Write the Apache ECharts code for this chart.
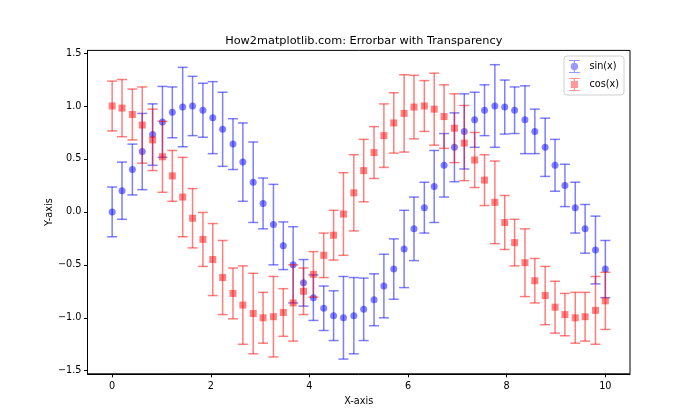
<!DOCTYPE html>
<html>
<head>
<meta charset="utf-8">
<script src="https://cdn.jsdelivr.net/npm/echarts@6/dist/echarts.min.js"></script>
<style>html,body{margin:0;padding:0;background:#fff}#chart{width:700px;height:420px}</style>
</head>
<body>
<div id="chart"></div>
<script>
const xValues = [0.00, 0.20, 0.41, 0.61, 0.82, 1.02, 1.22, 1.43, 1.63, 1.84, 2.04, 2.24, 2.45, 2.65, 2.86, 3.06, 3.27, 3.47, 3.67, 3.88, 4.08, 4.29, 4.49, 4.69, 4.90, 5.10, 5.31, 5.51, 5.71, 5.92, 6.12, 6.33, 6.53, 6.73, 6.94, 7.14, 7.35, 7.55, 7.76, 7.96, 8.16, 8.37, 8.57, 8.78, 8.98, 9.18, 9.39, 9.59, 9.80, 10.00];
const sinValues = [0.00, 0.20, 0.40, 0.57, 0.73, 0.85, 0.94, 0.99, 1.00, 0.96, 0.89, 0.78, 0.64, 0.47, 0.28, 0.08, -0.12, -0.32, -0.50, -0.67, -0.81, -0.91, -0.98, -1.00, -0.98, -0.92, -0.83, -0.70, -0.54, -0.35, -0.16, 0.04, 0.24, 0.44, 0.61, 0.76, 0.87, 0.96, 1.00, 0.99, 0.96, 0.87, 0.76, 0.61, 0.44, 0.25, 0.04, -0.16, -0.36, -0.54];
const cosValues = [1.00, 0.98, 0.92, 0.82, 0.68, 0.52, 0.34, 0.14, -0.06, -0.26, -0.45, -0.62, -0.77, -0.88, -0.96, -1.00, -0.99, -0.95, -0.86, -0.75, -0.59, -0.41, -0.22, -0.02, 0.18, 0.39, 0.56, 0.72, 0.84, 0.93, 0.99, 1.00, 0.97, 0.90, 0.79, 0.65, 0.49, 0.30, 0.09, -0.10, -0.29, -0.48, -0.65, -0.79, -0.90, -0.97, -1.00, -0.99, -0.93, -0.84];
const errValues = [0.235, 0.27, 0.24, 0.36, 0.29, 0.335, 0.24, 0.375, 0.28, 0.255, 0.34, 0.35, 0.24, 0.37, 0.38, 0.24, 0.38, 0.225, 0.36, 0.22, 0.215, 0.21, 0.235, 0.39, 0.36, 0.295, 0.245, 0.30, 0.285, 0.365, 0.30, 0.24, 0.34, 0.30, 0.325, 0.355, 0.26, 0.24, 0.39, 0.255, 0.22, 0.32, 0.21, 0.275, 0.245, 0.20, 0.24, 0.23, 0.32, 0.27];
const xTicks = [0, 2, 4, 6, 8, 10];
const yTicks = [-1.5, -1.0, -0.5, 0.0, 0.5, 1.0, 1.5];

const FONT = 'DejaVu Sans';
const BLUE_LINE = 'rgba(0,0,255,0.5)';
const BLUE_MARK = 'rgba(0,0,255,0.62)';
const RED_LINE = 'rgba(255,0,0,0.5)';
const RED_MARK = 'rgba(255,0,0,0.62)';

function errRenderer(color) {
  return function (params, api) {
    const x = api.value(0), y = api.value(1), e = api.value(2);
    const top = api.coord([x, y + e]);
    const bot = api.coord([x, y - e]);
    const cw = 5;
    const style = { stroke: color, lineWidth: 1.5, fill: null };
    return {
      type: 'group',
      children: [
        { type: 'line', shape: { x1: top[0], y1: top[1], x2: bot[0], y2: bot[1] }, style: style },
        { type: 'line', shape: { x1: top[0] - cw, y1: top[1], x2: top[0] + cw, y2: top[1] }, style: style },
        { type: 'line', shape: { x1: bot[0] - cw, y1: bot[1], x2: bot[0] + cw, y2: bot[1] }, style: style }
      ]
    };
  };
}

const sinErrData = sinValues.map((v, i) => [xValues[i], v, errValues[i]]);
const cosErrData = cosValues.map((v, i) => [xValues[i], v, errValues[i]]);
const sinPts = sinValues.map((v, i) => [xValues[i], v]);
const cosPts = cosValues.map((v, i) => [xValues[i], v]);

const circleIcon = 'path://M0,0H10V1H0Z M0,11H10V12H0Z M4.4,0H5.6V12H4.4Z M8.4,6A3.4,3.4,0,1,1,1.6,6A3.4,3.4,0,1,1,8.4,6Z';
const squareIcon = 'path://M0,0H10V1H0Z M0,11H10V12H0Z M4.4,0H5.6V12H4.4Z M1.7,2.7H8.3V9.3H1.7Z';

const chart = echarts.init(document.getElementById('chart'), null, { renderer: 'canvas' });
chart.setOption({
  animation: false,
  backgroundColor: '#fff',
  textStyle: { fontFamily: FONT },
  title: {
    text: 'How2matplotlib.com: Errorbar with Transparency',
    left: 358.75, top: 31, textAlign: 'center',
    textStyle: { fontFamily: FONT, fontSize: 11.3, fontWeight: 'normal', color: '#000' }
  },
  legend: {
    orient: 'vertical', right: 76, top: 56,
    padding: [4, 5, 4, 5], itemGap: 5, itemWidth: 20, itemHeight: 13,
    backgroundColor: 'rgba(255,255,255,0.8)', borderColor: '#d0d0d0', borderWidth: 1, borderRadius: 3,
    textStyle: { fontFamily: FONT, fontSize: 9.7, color: '#000' },
    data: [
      { name: 'sin(x)', icon: circleIcon, itemStyle: { color: BLUE_LINE } },
      { name: 'cos(x)', icon: squareIcon, itemStyle: { color: RED_LINE } }
    ]
  },
  grid: { left: 87.5, right: 70, top: 50.4, bottom: 46.2, show: true, borderColor: '#000', borderWidth: 1, backgroundColor: 'transparent' },
  xAxis: {
    type: 'value', min: -0.5, max: 10.5,
    name: 'X-axis', nameLocation: 'middle', nameGap: 23, nameMoveOverlap: false,
    nameTextStyle: { fontFamily: FONT, fontSize: 9.7, color: '#000' },
    axisLine: { show: true, onZero: false, lineStyle: { color: '#000', width: 1 } },
    axisTick: { show: true, length: 3.5, customValues: xTicks, lineStyle: { color: '#000' } },
    axisLabel: { customValues: xTicks, margin: 8, fontFamily: FONT, fontSize: 9.7, color: '#000', formatter: v => String(v) },
    splitLine: { show: false }
  },
  yAxis: {
    type: 'value', min: -1.529, max: 1.525,
    name: 'Y-axis', nameLocation: 'middle', nameGap: 33, nameRotate: 90, nameMoveOverlap: false,
    nameTextStyle: { fontFamily: FONT, fontSize: 9.7, color: '#000' },
    axisLine: { show: true, onZero: false, lineStyle: { color: '#000', width: 1 } },
    axisTick: { show: true, length: 3.5, customValues: yTicks, lineStyle: { color: '#000' } },
    axisLabel: { customValues: yTicks, margin: 6, fontFamily: FONT, fontSize: 9.7, color: '#000',
      formatter: v => (v < 0 ? '\u2212' : '') + Math.abs(v).toFixed(1) },
    splitLine: { show: false }
  },
  series: [
    { type: 'custom', name: 'sinErr', renderItem: errRenderer(BLUE_LINE), data: sinErrData, encode: { x: 0, y: 1 }, z: 2 },
    { type: 'scatter', name: 'sin(x)', data: sinPts, symbol: 'circle', symbolSize: 7, itemStyle: { color: BLUE_MARK }, z: 3 },
    { type: 'custom', name: 'cosErr', renderItem: errRenderer(RED_LINE), data: cosErrData, encode: { x: 0, y: 1 }, z: 4 },
    { type: 'scatter', name: 'cos(x)', data: cosPts, symbol: 'rect', symbolSize: 7, itemStyle: { color: RED_MARK }, z: 5 }
  ]
});
</script>
</body>
</html>
